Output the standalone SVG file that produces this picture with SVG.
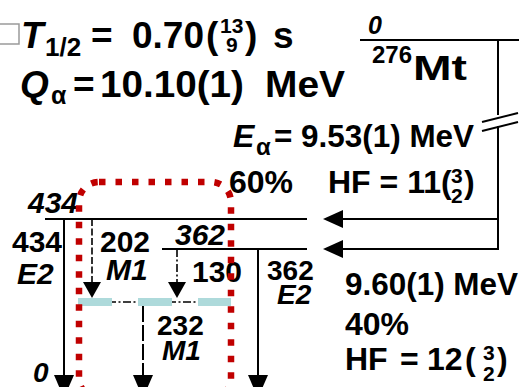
<svg xmlns="http://www.w3.org/2000/svg" width="524" height="387" viewBox="0 0 524 387">
<style>
.t{font-family:"Liberation Sans",Arial,Helvetica,sans-serif;font-weight:bold;fill:#000}
.i{font-style:italic}
.big{font-size:37px}
.mid{font-size:32px}
.lab{font-size:30px}
.lab2{font-size:28px}
.sm{font-size:21px}
.ln{stroke:#000;stroke-width:2;fill:none}
.dash{stroke:#000;stroke-width:1.6;fill:none;stroke-dasharray:7 2.5}
.dd{stroke:#000;stroke-width:1.6;fill:none;stroke-dasharray:8 2.5 2 2.5}
.ah{fill:#000}
</style>
<rect width="524" height="387" fill="#fff"/>
<polyline points="0,24 19,24 19,44 0,44" fill="none" stroke="#9a9a9a" stroke-width="1.5"/>
<g id="header">
<text class="t big i" x="21" y="48">T</text>
<text class="t" font-size="26" x="45" y="56">1/2</text>
<text class="t big" x="91" y="48">=</text>
<text class="t big" x="132" y="48">0.70</text>
<text class="t big" x="206" y="48">(</text>
<text class="t sm" x="220" y="33">13</text>
<text class="t sm" x="226" y="52">9</text>
<text class="t big" x="245" y="48">)</text>
<text class="t big" x="273" y="48">s</text>
<text class="t big i" x="20" y="97">Q</text>
<text class="t" font-size="25" x="51" y="104">α</text>
<text class="t big" x="73" y="97">=</text>
<text class="t big" x="100" y="97" textLength="144" lengthAdjust="spacingAndGlyphs">10.10(1)</text>
<text class="t big" x="265" y="97" textLength="80" lengthAdjust="spacingAndGlyphs">MeV</text>
</g>
<g id="parent">
<text class="t i" font-size="25" x="368" y="34">0</text>
<line class="ln" x1="360" y1="40" x2="519" y2="40"/>
<text class="t" font-size="24" x="372" y="63">276</text>
<text class="t" font-size="35" x="413" y="80" textLength="54" lengthAdjust="spacingAndGlyphs">Mt</text>
</g>
<g id="level434">
<line class="ln" x1="45" y1="219" x2="307" y2="219"/>
<text class="t lab i" x="28" y="213">434</text>
</g>
<g id="level362">
<line class="ln" x1="162" y1="249" x2="307" y2="249"/>
<text class="t lab i" x="175" y="245">362</text>
</g>
<g id="level232">
<line class="dd" x1="78" y1="302" x2="231" y2="302"/>
<rect x="78" y="298" width="34" height="8" fill="#aedadb"/>
<rect x="138" y="298" width="34" height="8" fill="#aedadb"/>
<rect x="198" y="298" width="33" height="8" fill="#aedadb"/>
</g>
<g id="level0">
<text class="t lab2 i" x="33" y="382">0</text>
</g>
<g id="alpha-labels">
<text class="t i mid" x="233" y="147">E</text>
<text class="t" font-size="24" x="256" y="155">α</text>
<text class="t mid" x="274" y="147" textLength="200" lengthAdjust="spacingAndGlyphs">= 9.53(1) MeV</text>
<text class="t mid" x="229" y="193">60%</text>
<text class="t mid" x="328" y="193">HF = 11(</text>
<text class="t sm" x="451" y="183">3</text>
<text class="t sm" x="451" y="203">2</text>
<text class="t mid" x="464" y="193">)</text>
<text class="t mid" x="345" y="295" textLength="173" lengthAdjust="spacingAndGlyphs">9.60(1) MeV</text>
<text class="t mid" x="345" y="335">40%</text>
<text class="t mid" x="345" y="370">HF</text>
<text class="t mid" x="400" y="370">=</text>
<text class="t mid" x="427" y="370">12</text>
<text class="t mid" x="465" y="370">(</text>
<text class="t sm" x="483" y="360">3</text>
<text class="t sm" x="483" y="381">2</text>
<text class="t mid" x="497" y="370">)</text>
</g>
<g id="gamma-labels">
<text class="t lab" x="12" y="252">434</text>
<text class="t lab i" x="17" y="284">E2</text>
<text class="t lab" x="100" y="252">202</text>
<text class="t lab i" x="106" y="280">M1</text>
<text class="t lab" x="192" y="282">130</text>
<text class="t lab2" x="267" y="280">362</text>
<text class="t lab2 i" x="277" y="304">E2</text>
<text class="t lab2" x="157" y="335">232</text>
<text class="t lab2 i" x="162" y="360">M1</text>
</g>
<g id="connectors">
<polyline class="ln" points="498,40 498,115"/>
<polyline class="ln" points="498,126 498,249 330,249"/>
<line class="ln" x1="482" y1="122" x2="518" y2="113"/>
<line class="ln" x1="482" y1="131" x2="518" y2="122"/>
<line class="ln" x1="498" y1="219" x2="330" y2="219"/>
<polygon class="ah" points="323,219 343,210 343,228"/>
<polygon class="ah" points="323,249 343,240 343,258"/>
<line class="ln" x1="64" y1="219" x2="64" y2="380"/>
<polygon class="ah" points="54,375 74,375 64,398"/>
<line class="ln" x1="258" y1="249" x2="258" y2="380"/>
<polygon class="ah" points="248,375 268,375 258,398"/>
<line class="ln" x1="143" y1="306" x2="143" y2="380" stroke-dasharray="16 3"/>
<polygon class="ah" points="133,375 153,375 143,398"/>
<line class="dash" x1="92" y1="219" x2="92" y2="284"/>
<polygon class="ah" points="83,282 101,282 92,298"/>
<line class="dd" x1="177" y1="249" x2="177" y2="284"/>
<polygon class="ah" points="168,282 186,282 177,298"/>
<rect x="79" y="182" width="152" height="216" rx="20" fill="none" stroke="#c00000" stroke-width="6.5" stroke-dasharray="6.5 10"/>
</g>
</svg>
